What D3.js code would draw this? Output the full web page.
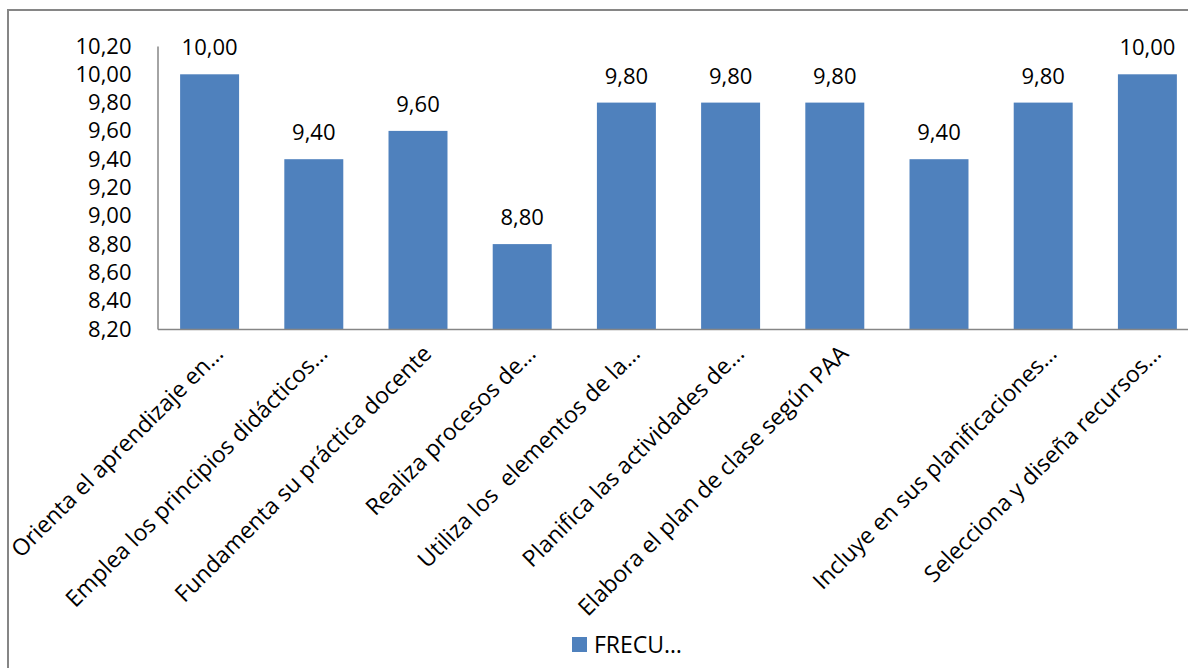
<!DOCTYPE html>
<html>
<head>
<meta charset="utf-8">
<script src="https://cdn.jsdelivr.net/npm/d3@7"></script>
<style>
  html, body { margin: 0; padding: 0; background: #ffffff; }
  svg { display: block; }
  text { font-family: "Open Sans", Lato, sans-serif; fill: #000; }
</style>
</head>
<body>
<svg id="chart" width="1188" height="668"></svg>
<script>
// Category labels as they appear on the axis (the eighth one is blank)
const categories = [
  "Orienta el aprendizaje en…",
  "Emplea los principios didácticos…",
  "Fundamenta su práctica docente",
  "Realiza procesos de…",
  "Utiliza los  elementos de la…",
  "Planifica las actividades de…",
  "Elabora el plan de clase según PAA",
  "",
  "Incluye en sus planificaciones…",
  "Selecciona y diseña recursos…"
];
const seriesName = "FRECU…";
const values = [10.00, 9.40, 9.60, 8.80, 9.80, 9.80, 9.80, 9.40, 9.80, 10.00];
const yTicks = [8.2, 8.4, 8.6, 8.8, 9.0, 9.2, 9.4, 9.6, 9.8, 10.0, 10.2];

const W = 1188, H = 668;
const plot = { left: 157.5, top: 46, right: 1199.5, bottom: 329 };
const barColor = "#4F81BD";
const lineColor = "#868686";
const fontFamily = "'Open Sans', Lato, sans-serif";
const fontSize = 22;
const catFontSize = 23;

const svg = d3.select("#chart");

// Spanish-style number format: comma as decimal separator
const locale = d3.formatLocale({ decimal: ",", thousands: ".", grouping: [3], currency: ["", " €"] });
const fmt = locale.format(".2f");

const x = d3.scaleBand()
  .domain(d3.range(categories.length))
  .range([plot.left, plot.right])
  .paddingInner(0.434)
  .paddingOuter(0.217);

const y = d3.scaleLinear()
  .domain([d3.min(yTicks), d3.max(yTicks)])
  .range([plot.bottom, plot.top]);

// Chart frame
svg.append("rect")
  .attr("x", 8).attr("y", 10)
  .attr("width", W + 40).attr("height", H + 40)
  .attr("fill", "none")
  .attr("stroke", lineColor)
  .attr("stroke-width", 2);

// Bars
svg.append("g").selectAll("rect")
  .data(values)
  .join("rect")
  .attr("x", (d, i) => x(i))
  .attr("width", x.bandwidth())
  .attr("y", d => y(d))
  .attr("height", d => y(y.domain()[0]) - y(d))
  .attr("fill", barColor);

// Value labels above the bars
svg.append("g").selectAll("text")
  .data(values)
  .join("text")
  .attr("x", (d, i) => x(i) + x.bandwidth() / 2)
  .attr("y", d => y(d) - 19)
  .attr("text-anchor", "middle")
  .attr("font-size", fontSize)
  .text(d => fmt(d));

// Y axis
const yAxis = d3.axisLeft(y)
  .tickValues(yTicks)
  .tickFormat(fmt)
  .tickSize(0)
  .tickPadding(26);
const gy = svg.append("g")
  .attr("transform", `translate(${plot.left},0)`)
  .call(yAxis);
gy.select(".domain").attr("stroke", lineColor).attr("stroke-width", 1.5);
gy.selectAll("text")
  .attr("font-size", fontSize)
  .attr("font-family", fontFamily)
  .attr("fill", "#000");

// X axis line
const xAxis = d3.axisBottom(x).tickSize(0).tickFormat("");
const gx = svg.append("g")
  .attr("transform", `translate(0,${plot.bottom})`)
  .call(xAxis);
gx.select(".domain").attr("stroke", lineColor).attr("stroke-width", 1.5);

// Rotated category labels
svg.append("g").selectAll("text")
  .data(categories)
  .join("text")
  .attr("text-anchor", "end")
  .attr("font-size", catFontSize)
  .attr("transform", (d, i) => {
    const cx = x(i) + x.bandwidth() / 2 + 15;
    const cy = plot.bottom + 26;
    return `translate(${cx},${cy}) rotate(-45)`;
  })
  .style("white-space", "pre")
  .text(d => d);

// Legend
const legend = svg.append("g").attr("transform", "translate(572,637)");
legend.append("rect")
  .attr("width", 15).attr("height", 15)
  .attr("fill", barColor);
legend.append("text")
  .attr("x", 22).attr("y", 16)
  .attr("font-size", catFontSize)
  .text(seriesName);
</script>
</body>
</html>
